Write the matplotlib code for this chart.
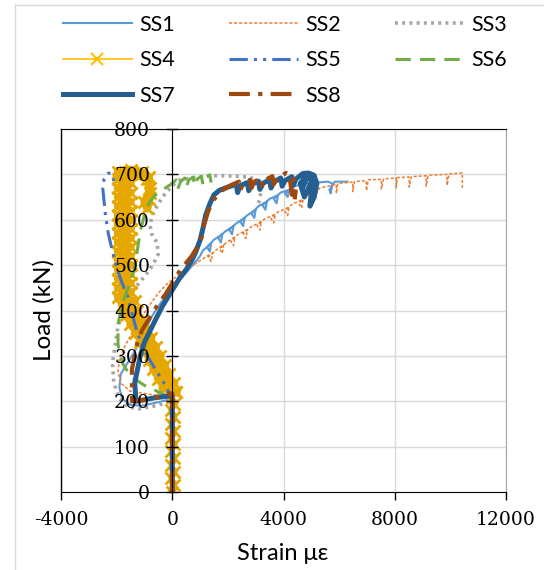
"""
plot.py
Load vs strain curves for gauges SS1 - SS8
"""

# Imports
import matplotlib
matplotlib.use("Agg")
import matplotlib.pyplot as plt
from matplotlib.lines import Line2D

plt.rcParams['axes.unicode_minus'] = False

# Data (strain in micro-strain, load in kN)
ss1_strain = [0, 0, 0, 0, -500, -1100, -1500, -1800, -1900, -1850, -1600, -1350, -1150, -950, -750, -550, -350,
              -150, 50, 250, 450, 650, 850, 1000, 1100,
              1400, 1350, 1250, 1500, 1800, 1750, 1650, 1900, 2200, 2150, 2050, 2300, 2600, 2550, 2450, 2700,
              3000, 2950, 2850, 3100, 3400, 3350, 3250, 3500, 3800, 3750, 3650, 3900, 4200, 4150, 4050, 4400,
              4800, 5200, 5600, 5750, 5700, 5650, 5850, 6300]
ss1_load = [0, 80, 160, 205, 198, 190, 192, 205, 230, 260, 285, 310, 335, 360, 385, 405, 422,
            438, 452, 466, 480, 494, 508, 520, 532,
            548, 530, 540, 556, 568, 550, 560, 574, 586, 568, 578, 592, 604, 586, 596, 610,
            622, 604, 614, 630, 640, 622, 632, 646, 654, 636, 646, 660, 666, 650, 658, 674,
            680, 682, 684, 680, 658, 666, 684, 684]

ss2_strain = [0, 0, 0, 0, -800, -1500, -1850, -1950, -1900, -1700, -1450, -1200, -950, -700, -450, -200, 50,
              300, 550, 800, 1000, 1150,
              1450, 1400, 1300, 1550, 1850, 1800, 1700, 1950, 2250, 2200, 2100, 2350, 2700, 2650, 2550, 2800,
              3200, 3150, 3050, 3300, 3700, 3650, 3550, 3800, 4200, 4150, 4050, 4300, 4700, 4650, 4550, 4800,
              5200, 5150, 5100, 5300,
              5900, 5900, 5950, 6490, 6490, 6550, 6980, 6980, 7050, 7520, 7520, 7600, 8050, 8050, 8100,
              8520, 8520, 8600, 9130, 9130, 9200, 9880, 9880, 9950, 10430, 10430]
ss2_load = [0, 80, 160, 210, 215, 222, 240, 265, 295, 322, 350, 375, 400, 422, 442, 458, 470,
            482, 492, 502, 510, 516,
            527, 508, 518, 532, 545, 526, 536, 550, 562, 543, 553, 567, 578, 559, 569, 583,
            596, 577, 587, 601, 612, 593, 603, 617, 628, 609, 619, 634, 645, 626, 636, 652,
            662, 644, 652, 670,
            678, 658, 680, 683, 662, 684, 686, 664, 688, 689, 668, 690, 692, 670, 693,
            694, 672, 695, 697, 674, 698, 700, 676, 701, 703, 670]

ss3_strain = [0, 0, 0, 0, -600, -1200, -1600, -1900, -2100, -2150, -2050, -1950, -1750, -1400, -1000, -700,
              -500, -550, -750, -800, -700, -550, -400, -250, -100, 50, 300, 700, 1100, 1500, 1900, 2300,
              2700, 3000, 3200, 3150, 3050]
ss3_load = [0, 80, 160, 200, 190, 183, 188, 205, 240, 285, 325, 365, 405, 445, 475, 500,
            525, 550, 570, 590, 612, 630, 645, 658, 668, 678, 688, 692, 695, 697, 697, 696,
            694, 690, 670, 645, 630]

ss4_strain = [0, 60, -60, 60, -60, 60, -60, 60, -60, 60, -60, 60, -60, 60, 0,
              150, -350, 70, -515, -100, -680, -260, -845, -425, -1010, -590, -1175, -755, -1340, -920,
              -1505, -1085, -1670, -1250, -1800, -1350,
              -1950, -1500, -1950, -1500, -1950, -1500, -1950, -1500, -1950, -1500, -1950, -1500, -1950, -1500,
              -1950, -1500, -1950, -1500, -1950, -1500, -1950, -1500, -1950, -1500, -1950, -1500, -1950, -1500,
              -1950, -1500, -1100, -850, -800, -850, -900, -1000, -800, -900, -1300, -1700]
ss4_load = [0, 15, 30, 45, 60, 75, 90, 105, 120, 135, 150, 165, 180, 195, 210,
            220, 230, 240, 250, 260, 270, 280, 290, 300, 310, 320, 330, 340, 350, 360,
            370, 380, 390, 400, 410, 420,
            430, 440, 450, 460, 470, 480, 490, 500, 510, 520, 530, 540, 550, 560,
            570, 580, 590, 600, 610, 620, 630, 640, 650, 660, 670, 680, 690, 700,
            705, 710, 705, 695, 670, 645, 625, 640, 660, 690, 700, 705]

ss5_strain = [0, 0, 0, 0, -250, -550, -850, -1100, -1300, -1450, -1600, -1800, -2000, -2150, -2300, -2400,
              -2450, -2500, -2450, -2300, -2150, -2100]
ss5_load = [0, 80, 160, 205, 235, 265, 295, 325, 360, 395, 430, 460, 495, 530, 570, 610,
            640, 670, 690, 703, 700, 685]

ss6_strain = [0, 0, 0, 0, -400, -1000, -1500, -1800, -1950, -1950, -1800, -1550, -1350, -1250, -1150, -1000,
              -850, -650, -450, -250, -50,
              150, 200, 300, 450, 500, 600, 750, 800, 900, 1050, 1100, 1200, 1350, 1400]
ss6_load = [0, 80, 160, 205, 218, 235, 255, 285, 325, 370, 415, 455, 495, 535, 575, 610,
            635, 652, 662, 670, 678,
            688, 668, 684, 692, 672, 688, 694, 675, 690, 696, 678, 693, 699, 682]

ss7_strain = [0, 0, 0, 0, -600, -1300, -1350, -1250, -1150, -1000, -800, -600, -350, -150, 50, 250, 500, 700,
              850, 1000, 1100, 1200, 1350, 1500, 1700, 2000,
              2300, 2350, 2450, 2700, 2750, 2850, 3100, 3150, 3250, 3500, 3550, 3650, 3900, 3950, 4050,
              4300, 4350, 4450,
              4700, 4900, 5100, 5200, 5100, 4950, 5000, 5150, 4800, 4600, 4750, 5050, 4900, 4700]
ss7_load = [0, 80, 160, 212, 208, 200, 240, 270, 300, 330, 355, 380, 410, 430, 450, 470, 490, 510,
            530, 555, 580, 610, 635, 655, 665, 672,
            678, 660, 675, 682, 664, 678, 685, 667, 680, 688, 670, 683, 692, 674, 686,
            695, 676, 690,
            702, 703, 698, 680, 650, 630, 660, 685, 695, 680, 650, 690, 700, 672]

ss8_strain = [0, 0, 0, 0, -700, -1450, -1450, -1450, -1350, -1250, -1100, -900, -700, -500, -250, 0, 200,
              350, 500, 700, 900, 1050, 1150, 1300, 1500, 1800, 2100,
              2400, 2450, 2550, 2800, 2850, 2950, 3200, 3250, 3350, 3600, 3650, 3750,
              4000, 4100, 4200, 4250, 4300, 4350, 4450, 4400]
ss8_load = [0, 80, 160, 218, 205, 200, 235, 270, 300, 330, 355, 375, 395, 415, 435, 460, 480,
            495, 505, 520, 540, 560, 590, 620, 645, 665, 676,
            684, 665, 680, 688, 670, 684, 692, 674, 688, 696, 678, 692,
            700, 703, 700, 680, 655, 690, 670, 645]

labels = ['SS1', 'SS2', 'SS3', 'SS4', 'SS5', 'SS6', 'SS7', 'SS8']
x_ticks = [-4000, 0, 4000, 8000, 12000]
y_ticks = [0, 100, 200, 300, 400, 500, 600, 700, 800]

# Line styles for each gauge
styles = {
    'SS1': dict(color='#5B9BD5', lw=1.5, ls='-'),
    'SS2': dict(color='#ED7D31', lw=1.1, ls=(0, (2, 1.3))),
    'SS3': dict(color='#A5A5A5', lw=2.6, ls=(0, (0.8, 1.2))),
    'SS4': dict(color='#E6A800', lw=1.5, ls='-', marker='x', ms=9, mew=2),
    'SS5': dict(color='#4472C4', lw=2.2, ls=(0, (6, 2, 1, 2, 1, 2))),
    'SS6': dict(color='#70AD47', lw=2.2, ls=(0, (5, 3))),
    'SS7': dict(color='#255E91', lw=3.6, ls='-'),
    'SS8': dict(color='#9E480E', lw=3.0, ls=(0, (5, 2, 1, 2))),
}

series = [(ss1_strain, ss1_load), (ss2_strain, ss2_load), (ss3_strain, ss3_load), (ss4_strain, ss4_load),
          (ss5_strain, ss5_load), (ss6_strain, ss6_load), (ss7_strain, ss7_load), (ss8_strain, ss8_load)]

fig = plt.figure(figsize=(5.44, 5.70), dpi=100)
ax = fig.add_axes([61 / 544, 78 / 570, 445 / 544, 363 / 570])
ax.set_axisbelow(False)  # tick labels drawn over the data, as in the original

# light gridlines, kept under the data
for xt in x_ticks:
    ax.axvline(xt, color='#D9D9D9', lw=1, zorder=0.5)
for yt in y_ticks:
    ax.axhline(yt, color='#D9D9D9', lw=1, zorder=0.5)

for name, (s, l) in zip(labels, series):
    if name == 'SS4':
        # the scattered part above 200 kN merges into a thick band in the original
        ax.plot(s[:16], l[:16], **styles[name])
        st = dict(styles[name])
        st['lw'] = 6
        ax.plot(s[15:], l[15:], **st)
    else:
        ax.plot(s, l, **styles[name])

ax.set_xlim(-4000, 12000)
ax.set_ylim(0, 800)
ax.set_xticks(x_ticks)
ax.set_yticks(y_ticks)

# vertical axis crosses at zero, plot area border kept around
ax.spines['left'].set_position(('data', 0))
for side in ['left', 'bottom', 'top']:
    ax.spines[side].set_color('black')
ax.spines['right'].set_color('#A6A6A6')
ax.axvline(-4000, color='black', lw=1.0, clip_on=False, zorder=3)

ax.tick_params(axis='y', direction='inout', length=8, width=1, pad=12)
ax.tick_params(axis='x', direction='out', length=6, width=1, pad=8)
for lab in ax.get_xticklabels() + ax.get_yticklabels():
    lab.set_fontfamily('DejaVu Serif')
    lab.set_fontsize(13.5)

sans = ['Lato', 'DejaVu Sans']
fig.text(44 / 544, 1 - 310 / 570, 'Load (kN)', rotation=90, ha='center', va='center',
         fontsize=17.5, family=sans)
fig.text(283 / 544, 1 - 554 / 570, 'Strain με', ha='center', va='center', fontsize=17, family=sans)

# legend, row by row like the original (3 columns)
handles = {}
for name in labels:
    st = dict(styles[name])
    if name == 'SS4':
        st.update(color='#FFC000', lw=1.2, ms=9, mew=1.5)
    handles[name] = Line2D([], [], **st)
order = ['SS1', 'SS4', 'SS7', 'SS2', 'SS5', 'SS8', 'SS3', 'SS6']
fig.legend([handles[n] for n in order], order, ncol=3, loc='upper left',
           bbox_to_anchor=(63 / 544, 1 - 15 / 570), frameon=False,
           prop={'family': sans, 'size': 15.5}, handlelength=3.2, handletextpad=0.35,
           columnspacing=2.5, labelspacing=0.72, borderpad=0, borderaxespad=0)

# chart area border (cropped in the original)
fig.add_artist(Line2D([15 / 544, 15 / 544], [0, 1 - 5 / 570], transform=fig.transFigure, color='#D9D9D9', lw=1))
fig.add_artist(Line2D([15 / 544, 1], [1 - 5 / 570, 1 - 5 / 570], transform=fig.transFigure, color='#D9D9D9', lw=1))

fig.savefig('out.png', dpi=100, facecolor='white')
